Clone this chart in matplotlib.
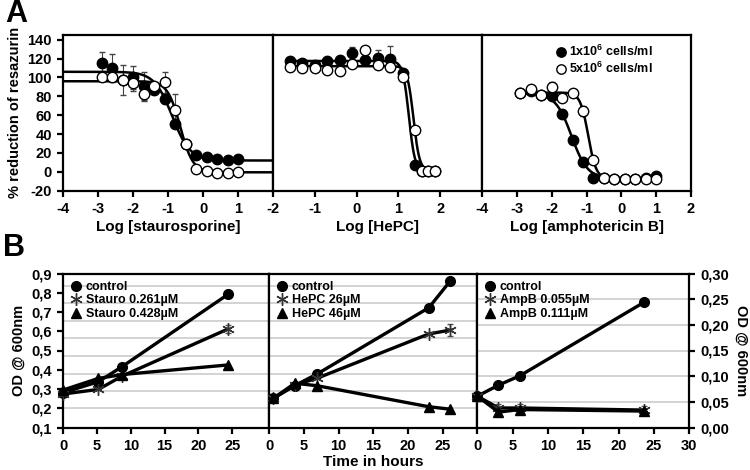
import numpy as np
import matplotlib
matplotlib.use('Agg')
from matplotlib import pyplot as plt

plt.rcParams['font.family'] = ['Liberation Sans', 'DejaVu Sans']
plt.rcParams['font.weight'] = 'bold'
plt.rcParams['axes.labelweight'] = 'bold'
plt.rcParams['axes.unicode_minus'] = False
plt.rcParams['mathtext.fontset'] = 'custom'
plt.rcParams['mathtext.rm'] = 'Liberation Sans:bold'
plt.rcParams['mathtext.bf'] = 'Liberation Sans:bold'

# ---- panel A data (log concentration vs % reduction) ----
stau_x = [-2.9, -2.6, -2.3, -2.0, -1.7, -1.4, -1.1, -0.8, -0.5, -0.2, 0.1, 0.4, 0.7, 1.0]
stau_filled = [115, 110, 97, 100, 91, 87, 77, 51, 30, 18, 15.5, 13.5, 13, 13.5]
stau_filled_err = [12, 15, 0, 12, 15, 5, 4, 0, 0, 0, 0, 0, 0, 0]
stau_open = [100, 100, 97, 94.5, 82, 91, 95, 66, 30, 2.8, 0.6, -0.8, -0.8, 0.3]
stau_open_err = [0, 0, 16, 9, 7, 4, 11, 16, 0, 0, 0, 0, 0, 0]

hepc_x = [-1.6, -1.3, -1.0, -0.7, -0.4, -0.1, 0.2, 0.5, 0.8, 1.1, 1.4, 1.56, 1.72, 1.88]
hepc_filled = [117, 115, 113, 117, 119, 126, 119, 121, 119.7, 105, 7.7, 0.6, 0.6, 0.6]
hepc_filled_err = [0, 4, 0, 0, 0, 6, 0, 8, 14, 4, 0, 0, 0, 0]
hepc_open = [111.5, 110.5, 110, 108, 107, 114, 129, 113, 110.9, 101, 44, 1.3, 1.3, 1.3]
hepc_open_err = [0, 0, 0, 0, 0, 0, 0, 0, 0, 5, 0, 0, 0, 0]

amp_x = [-2.9, -2.6, -2.3, -2.0, -1.7, -1.4, -1.1, -0.8, -0.5, -0.2, 0.1, 0.4, 0.7, 1.0]
amp_filled = [84, 86, 81, 80.6, 61.8, 34, 10.2, -6.5, -7, -7.5, -7.5, -7.5, -7, -4]
amp_filled_err = [0, 0, 0, 0, 0, 0, 0, 0, 0, 0, 0, 0, 0, 0]
amp_open = [83.8, 87.4, 81.3, 90.2, 77.8, 83.1, 64.6, 12.7, -6.5, -7.5, -7.5, -7.5, -7.5, -7.5]
amp_open_err = [0, 3, 0, 5, 0, 4, 5, 0, 0, 0, 0, 0, 0, 0]

# 4PL fit parameters: top, bottom, logIC50, hill, x range
stau_fit_filled = [106, 12, -0.88, 1.7, -4, 2]
stau_fit_open = [96, -0.5, -0.65, 2.4, -4, 2]
hepc_fit_filled = [117.5, 0.5, 1.25, 6, -1.6, 1.9]
hepc_fit_open = [112, 1.3, 1.36, 6, -1.6, 1.9]
amp_fit_filled = [83, -7, -1.43, 1.9, -2.9, 1.0]
amp_fit_open = [84, -7.5, -0.95, 3.8, -2.9, 1.0]

# ---- panel B data (growth curves) ----
stau_t = [0, 5.2, 8.7, 24.4]
stau_ctrl = [0.281, 0.338, 0.416, 0.792]
stau_ctrl_err = [0, 0, 0, 0.02]
stau_261 = [0.274, 0.298, 0.367, 0.612]
stau_261_err = [0, 0, 0, 0.02]
stau_428 = [0.295, 0.355, 0.375, 0.425]

hepc_t = [0.6, 3.7, 6.9, 23.0, 26.1]
hepc_ctrl = [0.252, 0.318, 0.378, 0.722, 0.861]
hepc_ctrl_err = [0, 0, 0, 0.015, 0]
hepc_26 = [0.252, 0.321, 0.356, 0.586, 0.606]
hepc_26_err = [0, 0, 0, 0, 0.03]
hepc_46 = [0.252, 0.33, 0.317, 0.208, 0.195]

amp_t = [0, 3, 6, 23.6]
amp_ctrl = [0.061, 0.0825, 0.1006, 0.244]
amp_055 = [0.061, 0.038, 0.038, 0.034]
amp_055_err = [0, 0.008, 0.008, 0.008]
amp_111 = [0.061, 0.030, 0.035, 0.032]

grid_left = [0.20, 0.29, 0.38, 0.47, 0.565, 0.655, 0.745, 0.835]
grid_right = [0.05, 0.10, 0.15, 0.20, 0.25]


def fourpl(p):
    top, bottom, c, h, lo, hi = p
    xs = np.linspace(lo, hi, 300)
    return xs, bottom + (top - bottom) / (1 + 10 ** ((xs - c) * h))


def style(ax, lw=1.6):
    for s in ax.spines.values():
        s.set_linewidth(lw)
    ax.tick_params(direction='out', width=lw, length=4, labelsize=10.5, pad=4)


fig = plt.figure(figsize=(7.5, 4.7), dpi=100)
W, H = 750.0, 470.0

# ================= A =================
a_edges = [63, 273, 482, 691]
a_top, a_bot = 35, 190.7
a_sets = [
    (stau_x, stau_filled, stau_filled_err, stau_open, stau_open_err, stau_fit_filled, stau_fit_open,
     (-4, 2), range(-4, 2), 'Log [staurosporine]'),
    (hepc_x, hepc_filled, hepc_filled_err, hepc_open, hepc_open_err, hepc_fit_filled, hepc_fit_open,
     (-2, 3), range(-2, 3), 'Log [HePC]'),
    (amp_x, amp_filled, amp_filled_err, amp_open, amp_open_err, amp_fit_filled, amp_fit_open,
     (-4, 2), range(-4, 3), 'Log [amphotericin B]'),
]
axA = []
for i, (x, yf, ef, yo, eo, pf, po, xl, xt, lab) in enumerate(a_sets):
    ax = fig.add_axes([a_edges[i] / W, 1 - a_bot / H, (a_edges[i + 1] - a_edges[i]) / W, (a_bot - a_top) / H])
    style(ax)
    xs, ys = fourpl(pf)
    ax.plot(xs, ys, color='black', lw=1.8, zorder=2)
    xs, ys = fourpl(po)
    ax.plot(xs, ys, color='black', lw=1.8, zorder=2)
    ax.errorbar(x, yf, yerr=ef, fmt='none', ecolor='#444444', elinewidth=0.8, capsize=2, zorder=1)
    ax.errorbar(x, yo, yerr=eo, fmt='none', ecolor='#444444', elinewidth=0.8, capsize=2, zorder=1)
    ax.plot(x, yf, 'o', ms=7.5, mfc='black', mec='black', mew=1, ls='none', zorder=3,
            label='1x10$^6$ cells/ml')
    ax.plot(x, yo, 'o', ms=7.5, mfc='white', mec='black', mew=1, ls='none', zorder=4,
            label='5x10$^6$ cells/ml')
    ax.set_xlim(*xl)
    ax.set_ylim(-20, 145)
    ax.set_xticks(list(xt))
    ax.set_xlabel(lab, fontsize=11, labelpad=3)
    if i == 0:
        ax.set_yticks(range(-20, 141, 20))
        ax.set_ylabel('% reduction of resazurin', fontsize=10.5, labelpad=4)
    else:
        ax.set_yticks([])
    axA.append(ax)

axA[2].legend(loc='upper right', bbox_to_anchor=(0.86, 1.0), frameon=False, fontsize=9,
              handletextpad=0.2, borderaxespad=0.3, labelspacing=0.15, handlelength=1.0,
              markerscale=0.9)

# ================= B =================
b_edges = [63.3, 269.3, 477.3, 689.3]
b_top, b_bot = 273.5, 427.5
b_sets = [
    (stau_t, stau_ctrl, stau_ctrl_err, stau_261, stau_261_err, stau_428, [0] * 4,
     ['control', 'Stauro 0.261µM', 'Stauro 0.428µM'], (0, 30.5), range(0, 26, 5)),
    (hepc_t, hepc_ctrl, hepc_ctrl_err, hepc_26, hepc_26_err, hepc_46, [0] * 5,
     ['control', 'HePC 26µM', 'HePC 46µM'], (0, 30), range(0, 26, 5)),
    (amp_t, amp_ctrl, [0] * 4, amp_055, amp_055_err, amp_111, [0] * 4,
     ['control', 'AmpB 0.055µM', 'AmpB 0.111µM'], (0, 30), range(0, 31, 5)),
]
asterisk = (6, 2, 0)
axB = []
for i, (t, yc, ec, ya, ea, yt, et, labs, xl, xt) in enumerate(b_sets):
    ax = fig.add_axes([b_edges[i] / W, 1 - b_bot / H, (b_edges[i + 1] - b_edges[i]) / W, (b_bot - b_top) / H])
    style(ax)
    if i < 2:
        ax.set_ylim(0.1, 0.9)
        for g in grid_left:
            ax.axhline(g, color='#c8c8c8', lw=1.1, zorder=0)
    else:
        ax.set_ylim(0.0, 0.3)
        for g in grid_right:
            ax.axhline(g, color='#c8c8c8', lw=1.1, zorder=0)
    ax.errorbar(t, yc, yerr=ec, fmt='none', ecolor='#555555', elinewidth=0.8, capsize=2, zorder=1)
    ax.errorbar(t, ya, yerr=ea, fmt='none', ecolor='#555555', elinewidth=0.8, capsize=2, zorder=1)
    ax.plot(t, yc, '-o', color='black', lw=2.4, ms=7, label=labs[0], clip_on=False, zorder=3)
    ax.plot(t, ya, '-', color='black', lw=2.4, marker=asterisk, ms=9, mew=1.0, mec='#333333',
            label=labs[1], clip_on=False, zorder=3)
    ax.plot(t, yt, '-^', color='black', lw=2.4, ms=7, label=labs[2], clip_on=False, zorder=3)
    ax.set_xlim(*xl)
    ax.set_xticks(list(xt))
    if i == 0:
        yt0 = [0.1, 0.2, 0.3, 0.4, 0.5, 0.6, 0.7, 0.8, 0.9]
        ax.set_yticks(yt0)
        ax.set_yticklabels([('%.1f' % v).replace('.', ',') for v in yt0])
        ax.set_ylabel('OD @ 600nm', fontsize=10.5)
    elif i == 1:
        ax.set_yticks([])
        ax.set_xlabel('Time in hours', fontsize=11, labelpad=2)
    else:
        yt2 = [0.0, 0.05, 0.10, 0.15, 0.20, 0.25, 0.30]
        ax.yaxis.tick_right()
        ax.yaxis.set_label_position('right')
        ax.set_yticks(yt2)
        ax.set_yticklabels([('%.2f' % v).replace('.', ',') for v in yt2])
        ax.set_ylabel('OD @ 600nm', fontsize=10.5, rotation=270, labelpad=14)
    leg = ax.legend(loc='upper left', frameon=False, fontsize=9, handlelength=0.8,
                    handletextpad=0.4, labelspacing=0.12, borderaxespad=0.2)
    for h in leg.get_lines():
        h.set_linestyle('none')
    axB.append(ax)

fig.text(5 / W, 1 - 14 / H, 'A', fontsize=22, fontweight='bold', va='center', ha='left')
fig.text(3 / W, 1 - 248 / H, 'B', fontsize=22, fontweight='bold', va='center', ha='left')

fig.savefig('out.png', dpi=100)
